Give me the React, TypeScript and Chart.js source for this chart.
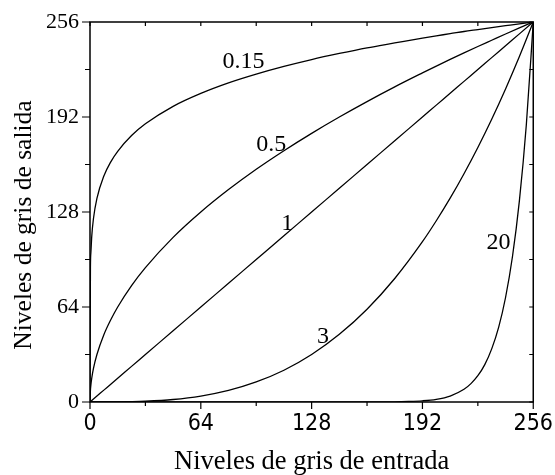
import React, { useEffect, useRef } from "react";
import { Chart, registerables } from "chart.js";

Chart.register(...registerables);

// Input grey levels (x) sampled for the gamma curves
const xLevels = [0, 0.25, 0.5, 1, 2, 4, 8, 12, 16, 24, 32, 48, 64, 80, 96, 112, 128, 144, 160, 176, 192, 200, 208, 216, 224, 232, 240, 248, 256];

const yGamma015 = [0, 90.5, 100.4, 111.4, 123.6, 137.2, 152.2, 161.8, 168.9, 179.5, 187.4, 199.2, 207.9, 215.0, 220.9, 226.1, 230.7, 234.8, 238.6, 241.9, 245.2, 246.7, 248.1, 249.6, 250.9, 252.2, 253.5, 254.8, 256];
const yGamma05 = [0, 8.0, 11.3, 16, 22.6, 32, 45.3, 55.4, 64, 78.4, 90.5, 110.9, 128, 143.1, 156.8, 169.3, 181.0, 192, 202.4, 212.3, 221.7, 226.3, 230.8, 235.2, 239.5, 243.7, 247.9, 252.0, 256];
const yGamma1 = [0, 0.25, 0.5, 1, 2, 4, 8, 12, 16, 24, 32, 48, 64, 80, 96, 112, 128, 144, 160, 176, 192, 200, 208, 216, 224, 232, 240, 248, 256];
const yGamma3 = [0, 0, 0, 0, 0, 0, 0.01, 0.03, 0.06, 0.21, 0.5, 1.69, 4, 7.8, 13.5, 21.4, 32, 45.6, 62.5, 83.2, 108, 122.1, 137.3, 153.8, 171.5, 190.5, 210.9, 232.7, 256];

const xLevels20 = [0, 128, 176, 184, 192, 200, 208, 216, 220, 224, 228, 232, 236, 240, 244, 248, 252, 256];
const yGamma20 = [0, 0, 0.14, 0.35, 0.81, 1.83, 4.02, 8.55, 12.4, 17.7, 25.2, 35.8, 50.3, 70.4, 98.0, 135.7, 186.8, 256];

// Curve labels and their anchor (data units)
const curveLabels = ["0.15", "0.5", "1", "3", "20"];
const labelX = [88.6, 104.7, 113.9, 134.6, 235.9];
const labelY = [229.1, 173.1, 119.9, 43.8, 107.1];

// Axis ticks
const majorTicks = [0, 64, 128, 192, 256];
const minorTicks = [32, 96, 160, 224];
const allTicks = [0, 32, 64, 96, 128, 160, 192, 224, 256];

const xTitle = "Niveles de gris de entrada";
const yTitle = "Niveles de gris de salida";

const serif = "'Liberation Serif', 'Times New Roman', serif";

const toPoints = (xs: number[], ys: number[]) => xs.map((x, i) => ({ x, y: ys[i] }));

const framePlugin = {
  id: "frameTicks",
  afterDatasetsDraw(chart: any) {
    const { ctx, chartArea, scales } = chart;
    const xs = scales.x;
    const ys = scales.y;
    const { left, right, top, bottom } = chartArea;
    ctx.save();
    ctx.strokeStyle = "#000";
    ctx.lineWidth = 1.5;
    ctx.strokeRect(left, top, right - left, bottom - top);
    ctx.lineWidth = 1.2;
    ctx.beginPath();
    // bottom / left outward ticks
    majorTicks.forEach((v) => {
      const px = xs.getPixelForValue(v);
      ctx.moveTo(px, bottom);
      ctx.lineTo(px, bottom + 7);
      const py = ys.getPixelForValue(v);
      ctx.moveTo(left, py);
      ctx.lineTo(left - 8, py);
    });
    minorTicks.forEach((v) => {
      const px = xs.getPixelForValue(v);
      ctx.moveTo(px, bottom);
      ctx.lineTo(px, bottom + 4);
      const py = ys.getPixelForValue(v);
      ctx.moveTo(left, py);
      ctx.lineTo(left - 5, py);
    });
    // top / right inward ticks
    allTicks.forEach((v) => {
      const px = xs.getPixelForValue(v);
      ctx.moveTo(px, top);
      ctx.lineTo(px, top + 4);
      const py = ys.getPixelForValue(v);
      ctx.moveTo(right, py);
      ctx.lineTo(right - 4, py);
    });
    ctx.stroke();
    ctx.fillStyle = "#000";
    // curve labels
    ctx.font = `24px ${serif}`;
    ctx.textAlign = "center";
    ctx.textBaseline = "middle";
    curveLabels.forEach((t, i) => {
      ctx.fillText(t, xs.getPixelForValue(labelX[i]), ys.getPixelForValue(labelY[i]));
    });
    // y axis title
    ctx.font = `25.5px ${serif}`;
    ctx.translate(24, (top + bottom) / 2 + 13);
    ctx.rotate(-Math.PI / 2);
    ctx.fillText(yTitle, 0, 0);
    ctx.restore();
  },
};

export default function App() {
  const canvasRef = useRef<HTMLCanvasElement | null>(null);

  useEffect(() => {
    const canvas = canvasRef.current;
    if (!canvas) return;
    const lineDs = (data: any[]) => ({
      data,
      borderColor: "#000",
      borderWidth: 1.3,
      pointRadius: 0,
      fill: false,
      cubicInterpolationMode: "monotone" as const,
    });
    const chart = new Chart(canvas, {
      type: "line",
      data: {
        datasets: [
          lineDs(toPoints(xLevels, yGamma015)),
          lineDs(toPoints(xLevels, yGamma05)),
          lineDs(toPoints(xLevels, yGamma1)),
          lineDs(toPoints(xLevels, yGamma3)),
          lineDs(toPoints(xLevels20, yGamma20)),
        ],
      },
      options: {
        responsive: false,
        animation: false,
        events: [],
        layout: { padding: { top: 22, right: 20, left: 0, bottom: 0 } },
        plugins: { legend: { display: false }, tooltip: { enabled: false } },
        scales: {
          x: {
            type: "linear",
            min: 0,
            max: 256,
            grid: { display: false, drawTicks: true, tickLength: 6 },
            border: { display: false },
            ticks: {
              stepSize: 64,
              color: "#000",
              padding: 2,
              maxRotation: 0,
              font: { family: "'Liberation Sans Narrow', 'DejaVu Sans Condensed', sans-serif", size: 23 },
            },
            title: {
              display: true,
              text: xTitle,
              color: "#000",
              padding: { top: 0, bottom: 0 },
              font: { family: serif, size: 26.5, lineHeight: 1 },
            },
            afterFit: (scale: any) => {
              scale.height = 73;
            },
          },
          y: {
            type: "linear",
            min: 0,
            max: 256,
            grid: { display: false, drawTicks: true, tickLength: 8 },
            border: { display: false },
            ticks: {
              stepSize: 64,
              color: "#000",
              padding: 3,
              font: { family: serif, size: 22 },
            },
            title: { display: false },
            afterFit: (scale: any) => {
              scale.width = 90;
            },
          },
        },
      },
      plugins: [framePlugin],
    });
    return () => chart.destroy();
  }, []);

  return (
    <div style={{ position: "absolute", left: 0, top: 0, width: 555, height: 475, background: "#fff" }}>
      <canvas ref={canvasRef} width={555} height={475} style={{ display: "block", width: 555, height: 475 }} />
    </div>
  );
}
